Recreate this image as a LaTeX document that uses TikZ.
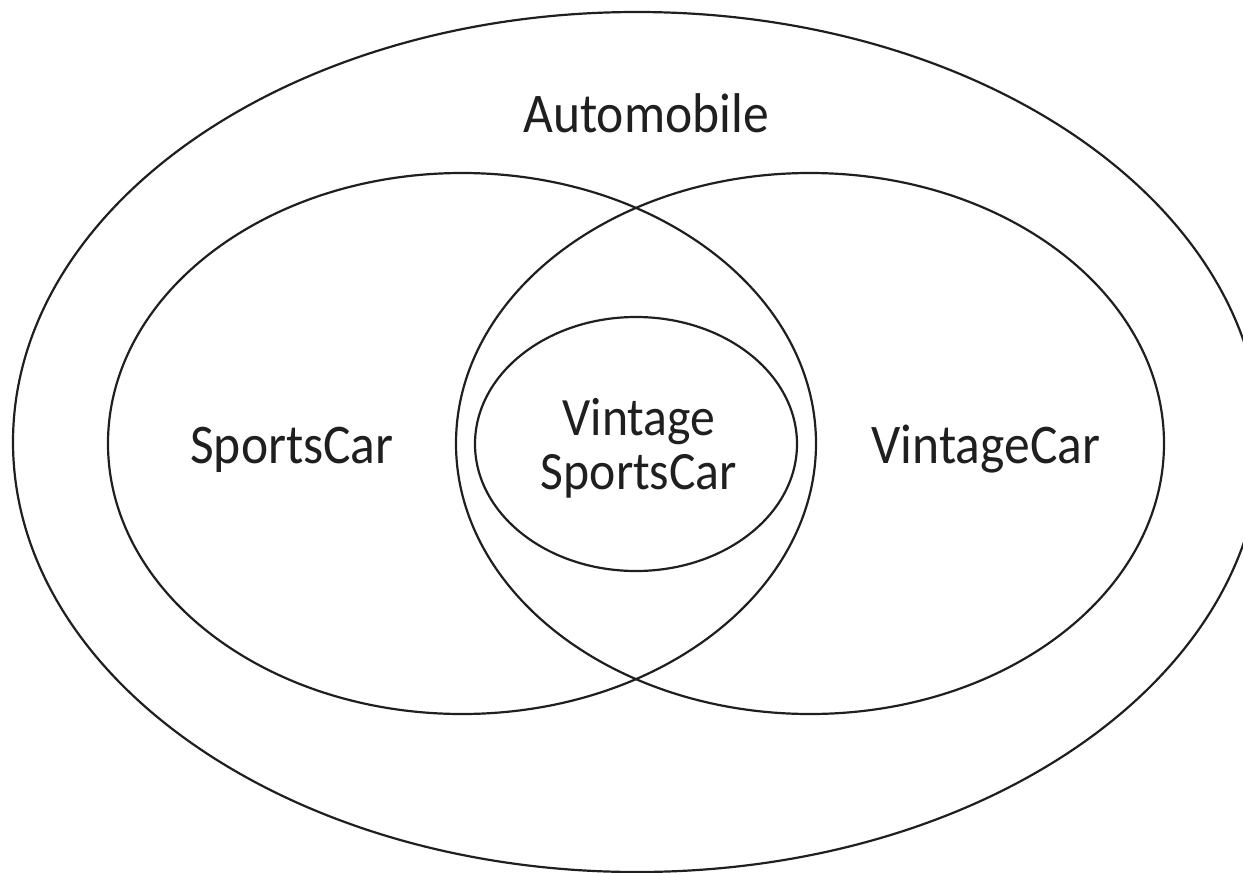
\documentclass[tikz,border=0pt]{standalone}
\usepackage{fontspec}
\setmainfont{Carlito}[FakeStretch=0.92]
\begin{document}
\begin{tikzpicture}[x=1pt,y=-1pt,
  setline/.style={draw=black!88, line width=2.2pt},
  lbl/.style={font=\fontsize{56}{49}\selectfont, text=black!88, inner sep=0pt},
  lbltwo/.style={font=\fontsize{54}{54}\selectfont, text=black!88, inner sep=0pt, align=center}]
\useasboundingbox (0,0) rectangle (1243,873);
\clip (0,0) rectangle (1243,873);
\draw[setline] (637,442) ellipse [x radius=624pt, y radius=430pt];
\draw[setline] (462,443.5) ellipse [x radius=354pt, y radius=270.5pt];
\draw[setline] (810,443.5) ellipse [x radius=354pt, y radius=270.5pt];
\draw[setline] (636,444) ellipse [x radius=161pt, y radius=127pt];
\node[lbl, anchor=base] (automobile) at (646,132) {Automobile};
\node[lbl, anchor=base] (sports) at (292,463) {SportsCar};
\node[lbl, anchor=base] (vintage) at (986,463) {VintageCar};
\node[lbltwo, anchor=center] (vsc) at (639,448) {Vintage\\SportsCar};
\end{tikzpicture}
\end{document}
